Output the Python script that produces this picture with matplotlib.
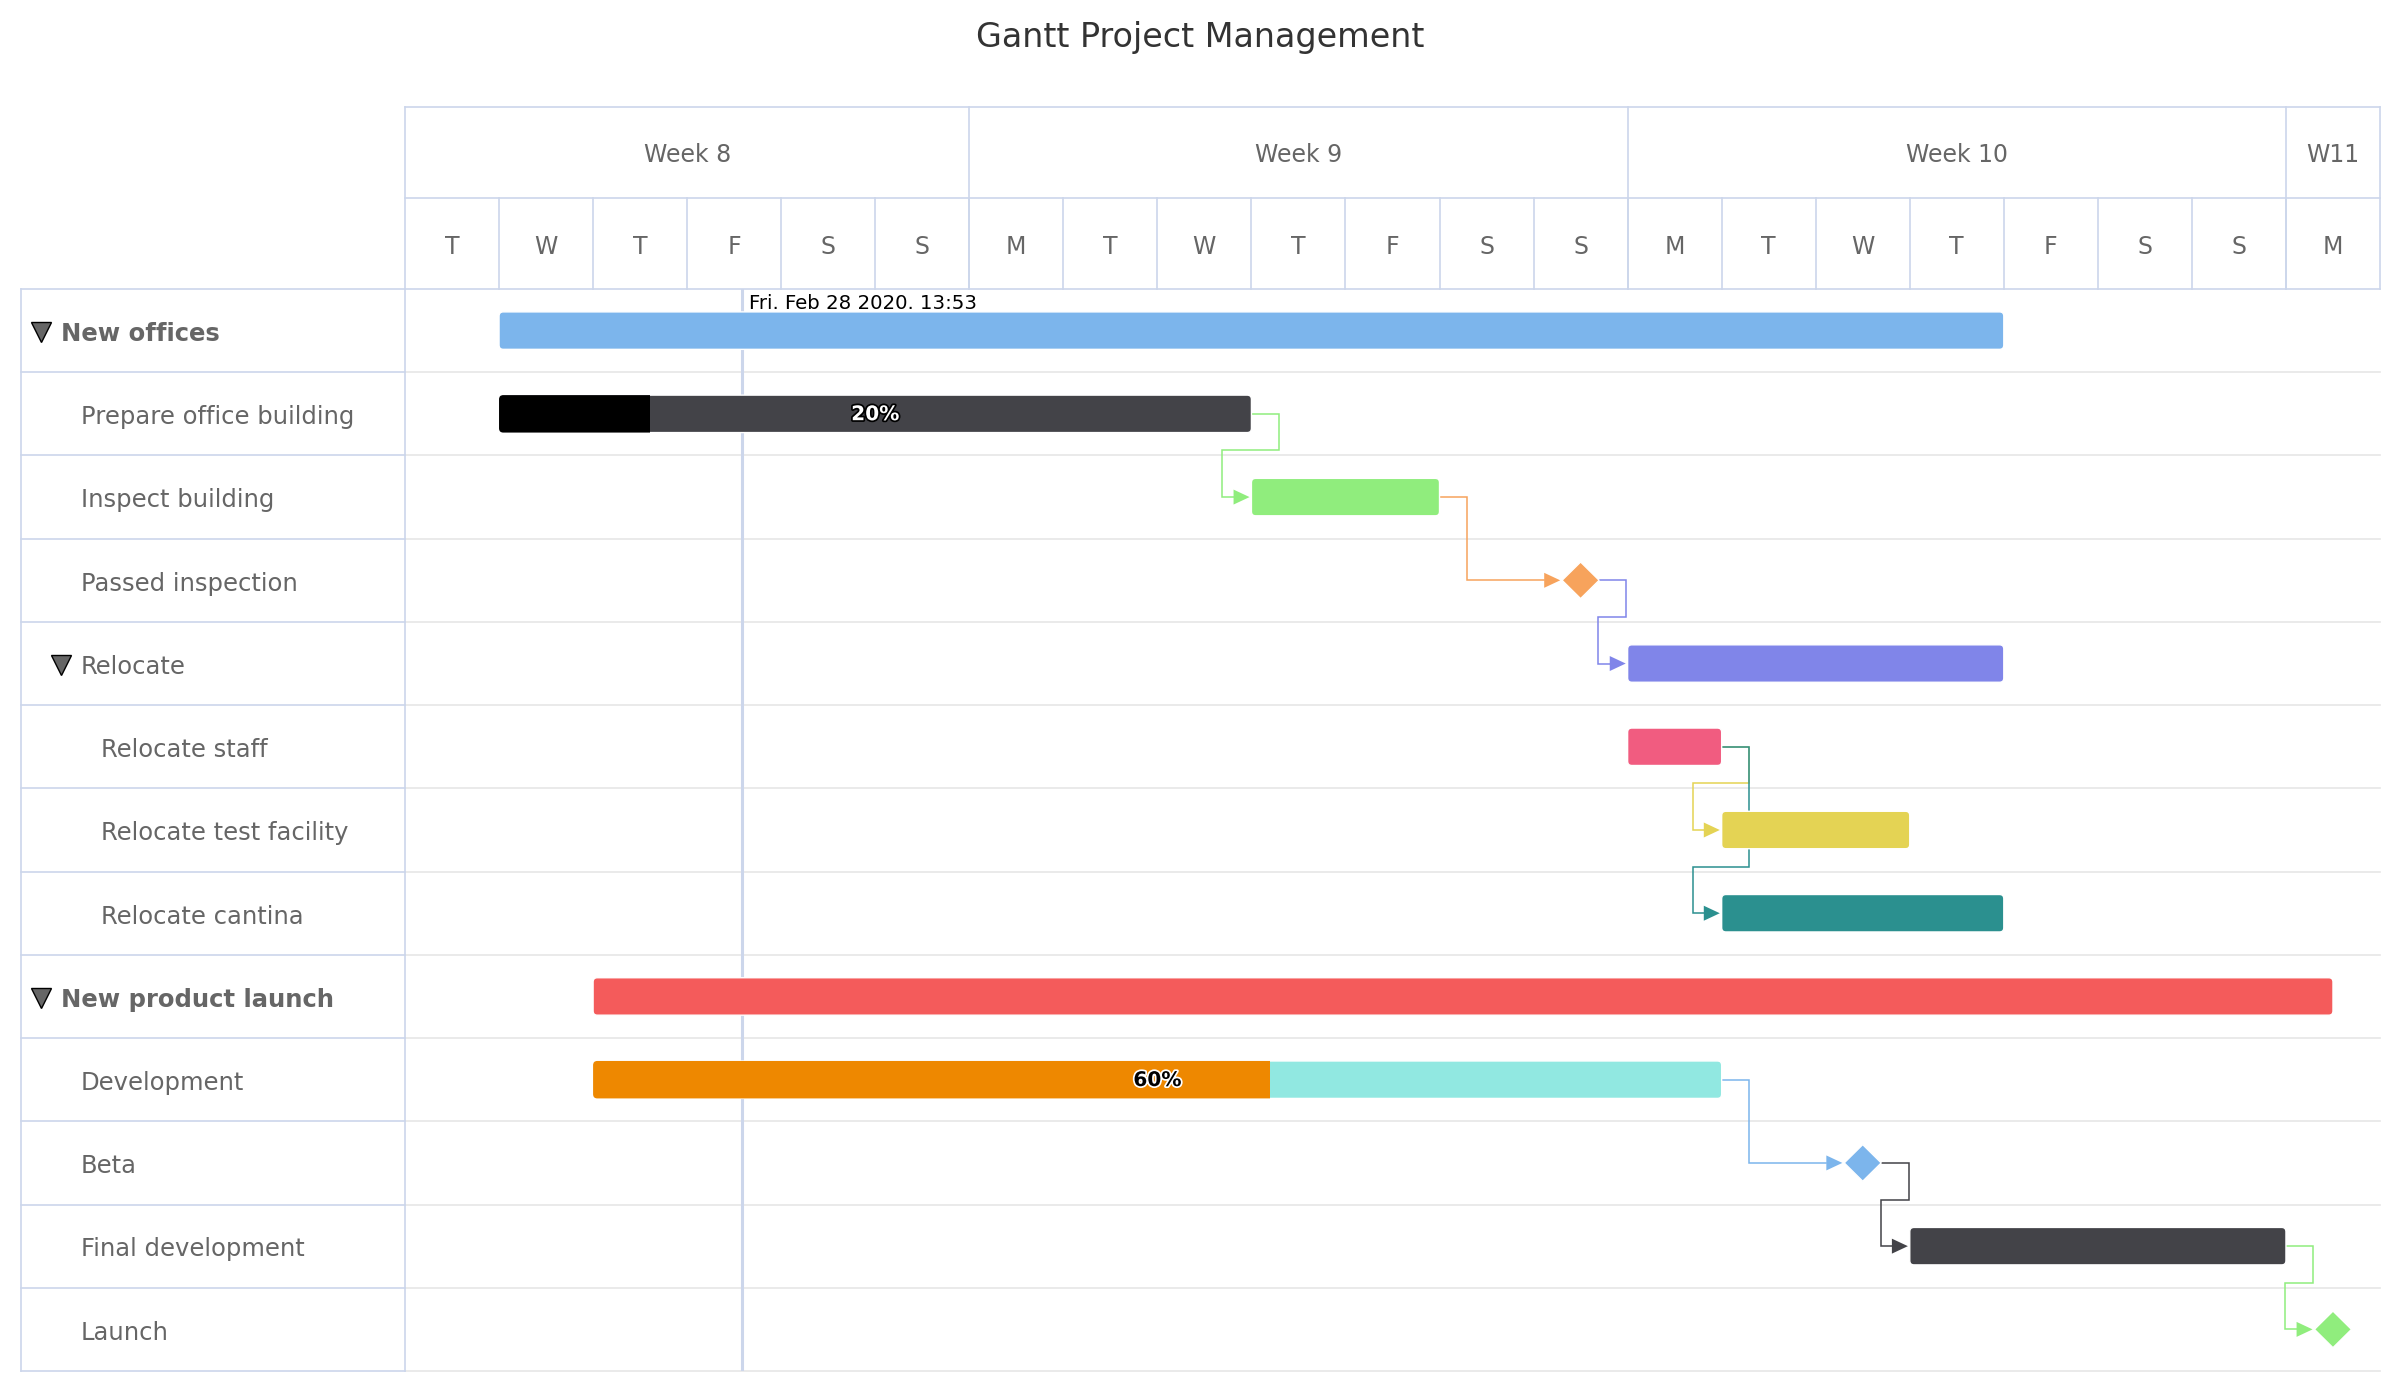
import numpy as np
import matplotlib
matplotlib.use("Agg")
import matplotlib.pyplot as plt
import matplotlib.patheffects as pe
from matplotlib.patches import FancyBboxPatch, Polygon, Rectangle
from matplotlib.colors import to_rgb

plt.rcParams.update({
    "font.family": ["DejaVu Sans"],
    "figure.facecolor": "white",
})

# ── data: days counted from Tue 25 Feb 2020 ───────────────
TASKS = ["New offices", "Prepare office building", "Inspect building",
         "Passed inspection", "Relocate", "Relocate staff",
         "Relocate test facility", "Relocate cantina", "New product launch",
         "Development", "Beta", "Final development", "Launch"]
LEVEL = [0, 1, 1, 1, 1, 2, 2, 2, 0, 1, 1, 1, 1]
GROUP = [True, False, False, False, True, False, False, False,
         True, False, False, False, False]
START = [1, 1, 9, 12.5, 13, 13, 14, 14, 2, 2, 15.5, 16, 20.5]
END   = [17, 9, 11, None, 17, 14, 16, 17, 20.5, 14, None, 20, None]
COMPLETED       = [None, 0.2, None, None, None, None, None, None, None, 0.6, None, None, None]
COMPLETED_COLOR = [None, "#000000", None, None, None, None, None, None, None, "#ee8800", None, None, None]
COLORS = ["#7cb5ec", "#434348", "#90ed7d", "#f7a35c", "#8085e9", "#f15c80",
          "#e4d354", "#2b908f", "#f45b5b", "#91e8e1", "#7cb5ec", "#434348",
          "#90ed7d"]
DEPENDENCIES = [(1, 2), (2, 3), (3, 4), (5, 6), (5, 7), (9, 10), (10, 11), (11, 12)]

DAY_LABELS  = ["T", "W", "T", "F", "S", "S", "M", "T", "W", "T", "F", "S", "S",
               "M", "T", "W", "T", "F", "S", "S", "M"]
WEEK_LABELS = ["Week 8", "Week 9", "Week 10", "W11"]
WEEK_START  = [0, 6, 13, 20]
WEEK_END    = [6, 13, 20, 21]
TODAY       = 3 + (13 + 53 / 60) / 24
TODAY_LABEL = "Fri. Feb 28 2020. 13:53"

# ── style ──────────────────────────────────────────────────
W, H = 2400, 1400
GRID_BLUE = "#ccd6eb"
GRID_GRAY = "#e6e6e6"
LABEL_COL = "#666666"
BAR_H = 0.45          # row fraction
DIA_W, DIA_H = 0.197, 0.22
OFF = 0.29            # connector elbow (days)
ARR_L, ARR_H = 0.17, 0.09
LW = 1.1


def box(x0, y0, x1, y1):
    return [x0 / W, 1 - y1 / H, (x1 - x0) / W, (y1 - y0) / H]


def clean(a):
    for s in a.spines.values():
        s.set_visible(False)
    a.set_xticks([])
    a.set_yticks([])
    a.patch.set_alpha(0)


fig = plt.figure(figsize=(24, 14), dpi=100)
fig.text(0.5, 1 - 38 / H, "Gantt Project Management", ha="center", va="center",
         fontsize=24, color="#333333")

n = len(TASKS)
ax = fig.add_axes(box(405, 289, 2380, 1371))
axh = fig.add_axes(box(405, 107, 2380, 289))
axl = fig.add_axes(box(21, 289, 405, 1371))
for a in (ax, axh, axl):
    clean(a)

# ── header (weeks / days) ──────────────────────────────────
axh.set_xlim(0, len(DAY_LABELS))
axh.set_ylim(2, 0)
hk = dict(color=GRID_BLUE, lw=1.2, clip_on=False)
axh.plot([0, 21], [0, 0], **hk)
axh.plot([0, 21], [1, 1], **hk)
axh.plot([0, 21], [2, 2], **hk)
axh.plot([0, 0], [0, 2], **hk)
axh.plot([21, 21], [0, 2], **hk)
for d in range(1, len(DAY_LABELS)):
    axh.plot([d, d], [1, 2], **hk)
for ws, we, lab in zip(WEEK_START, WEEK_END, WEEK_LABELS):
    if ws > 0:
        axh.plot([ws, ws], [0, 2], **hk)
    axh.text((ws + we) / 2, 0.53, lab, ha="center", va="center",
             fontsize=17, color=LABEL_COL)
for d, lab in enumerate(DAY_LABELS):
    axh.text(d + 0.5, 1.54, lab, ha="center", va="center",
             fontsize=17, color=LABEL_COL)

# ── left table ─────────────────────────────────────────────
axl.set_xlim(0, 384)
axl.set_ylim(n, 0)
for r in range(n + 1):
    axl.plot([0, 384], [r, r], color=GRID_BLUE, lw=1.2, clip_on=False)
axl.plot([0, 0], [0, n], color=GRID_BLUE, lw=1.2, clip_on=False)
axl.plot([384, 384], [0, n], color=GRID_BLUE, lw=1.2, clip_on=False)
for i, (name, lev, grp) in enumerate(zip(TASKS, LEVEL, GROUP)):
    tx = 40 + 20 * lev
    axl.text(tx, i + 0.54, name, ha="left", va="center", fontsize=17.5,
             color=LABEL_COL, fontweight="bold" if lev == 0 else "normal")
    if grp:
        axl.plot(tx - 20, i + 0.52, marker="v", markersize=15,
                 markerfacecolor="#666666", markeredgecolor="#000000",
                 markeredgewidth=1.0)

# ── chart area ─────────────────────────────────────────────
ax.set_xlim(0, len(DAY_LABELS))
ax.set_ylim(n, 0)
for r in range(1, n + 1):
    ax.plot([0, 21], [r, r], color=GRID_GRAY, lw=1.2, clip_on=False, zorder=0)
ax.axvline(TODAY, color=GRID_BLUE, lw=2.2, zorder=1)
ax.text(TODAY + 0.08, 0.18, TODAY_LABEL, ha="left", va="center",
        fontsize=14.2, color="#000000", zorder=6)

# dependency connectors
for src, tgt in DEPENDENCIES:
    x0 = END[src] if END[src] is not None else START[src] + DIA_W
    y0 = src + 0.5
    x1 = START[tgt] - (DIA_W + 0.02 if END[tgt] is None else 0.02)
    y1 = tgt + 0.5
    col = COLORS[tgt]
    if x1 - OFF >= x0 + OFF:
        xs = [x0, x0 + OFF, x0 + OFF, x1 - ARR_L]
        ys = [y0, y0, y1, y1]
    else:
        ym = y1 - 0.56
        xs = [x0, x0 + OFF, x0 + OFF, x1 - OFF, x1 - OFF, x1 - ARR_L]
        ys = [y0, y0, ym, ym, y1, y1]
    ax.plot(xs, ys, color=col, lw=LW, zorder=2, solid_joinstyle="miter")
    ax.add_patch(Polygon([(x1 - ARR_L, y1 - ARR_H), (x1, y1), (x1 - ARR_L, y1 + ARR_H)],
                         closed=True, facecolor=col, edgecolor="none", zorder=2))

# bars, progress and milestones
aspect = ((2380 - 405) / 21) / ((1371 - 289) / n)   # px per day / px per row
for i in range(n):
    y = i + 0.5
    s, e, c = START[i], END[i], COLORS[i]
    if e is None:
        ax.add_patch(Polygon([(s - DIA_W, y), (s, y - DIA_H), (s + DIA_W, y), (s, y + DIA_H)],
                             closed=True, facecolor=c, edgecolor="white", lw=1.0, zorder=4))
        continue
    style = "round,pad=0,rounding_size=0.045"
    bar = FancyBboxPatch((s, y - BAR_H / 2), e - s, BAR_H, boxstyle=style,
                         mutation_aspect=aspect, facecolor=c,
                         edgecolor="white", lw=1.0, zorder=4)
    ax.add_patch(bar)
    if COMPLETED[i] is not None:
        frac = COMPLETED[i]
        done = FancyBboxPatch((s, y - BAR_H / 2), e - s, BAR_H, boxstyle=style,
                              mutation_aspect=aspect,
                              facecolor=COMPLETED_COLOR[i], edgecolor="none", zorder=5)
        clip = Rectangle((s, y - BAR_H), frac * (e - s), 2 * BAR_H, transform=ax.transData)
        ax.add_patch(done)
        done.set_clip_path(clip)
        lum = np.dot(to_rgb(c), [0.299, 0.587, 0.114])
        fg, bg = ("white", "black") if lum < 0.5 else ("black", "white")
        t = ax.text((s + e) / 2, y + 0.01, f"{frac:.0%}", ha="center", va="center",
                    fontsize=14.5, fontweight="bold", color=fg, zorder=6)
        t.set_path_effects([pe.withStroke(linewidth=2.5, foreground=bg)])

fig.savefig("out.png", dpi=100, facecolor="white")
